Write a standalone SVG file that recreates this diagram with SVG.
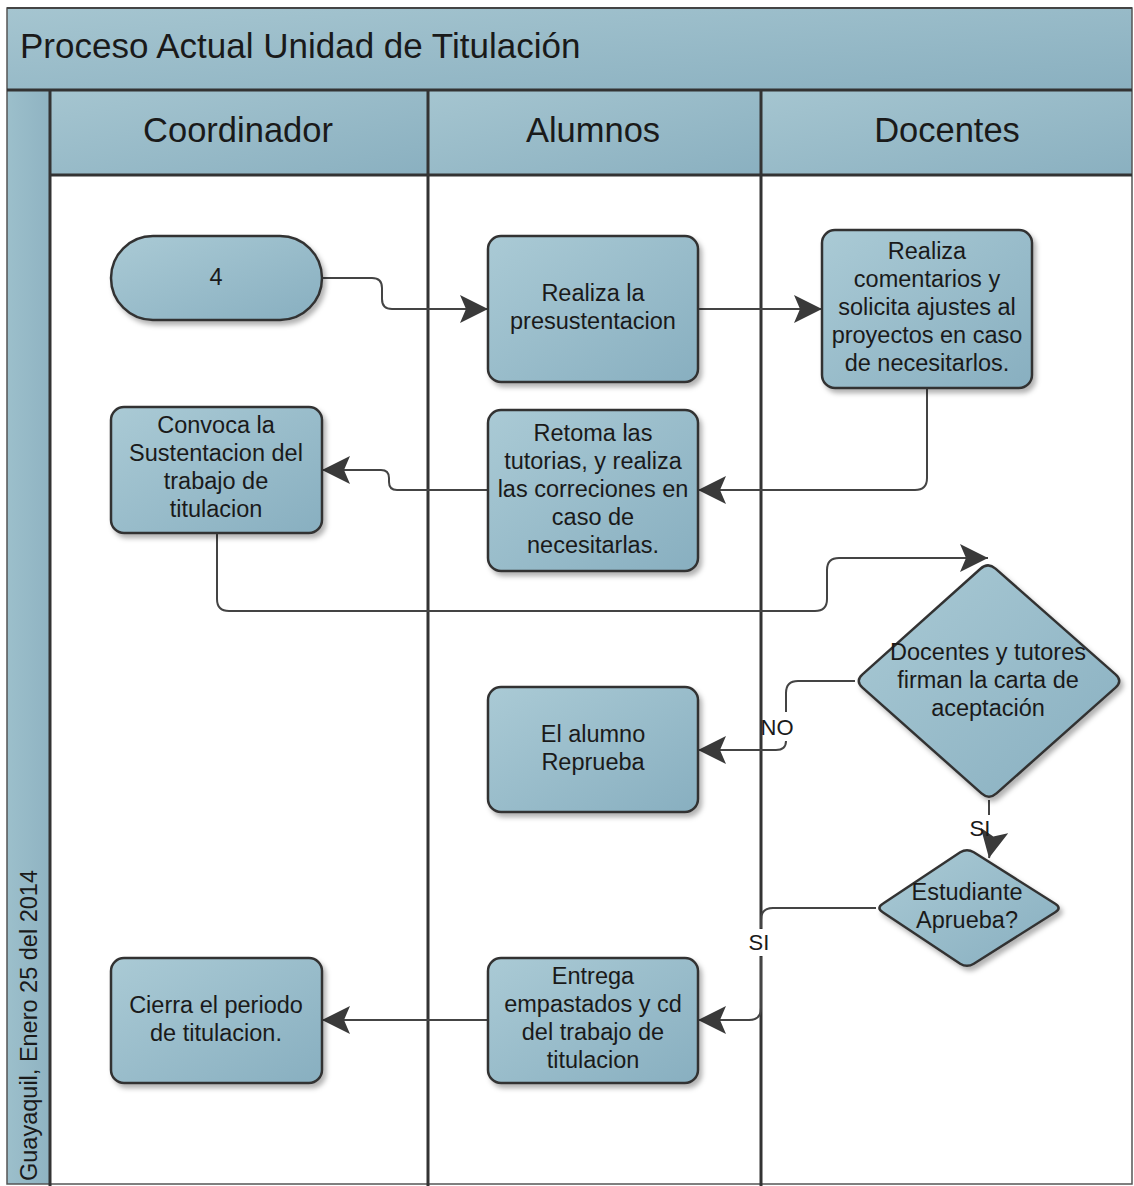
<svg xmlns="http://www.w3.org/2000/svg" width="1134" height="1186" viewBox="0 0 1134 1186">
  <defs>
    <linearGradient id="gBox" x1="0" y1="0" x2="1" y2="1">
      <stop offset="0" stop-color="#aacad5"/>
      <stop offset="1" stop-color="#88afc0"/>
    </linearGradient>
    <linearGradient id="gBar" x1="0" y1="0" x2="1" y2="1">
      <stop offset="0" stop-color="#a5c5d0"/>
      <stop offset="1" stop-color="#8ab0c0"/>
    </linearGradient>
    <linearGradient id="gStrip" x1="0" y1="0" x2="1" y2="0">
      <stop offset="0" stop-color="#9cbfcb"/>
      <stop offset="1" stop-color="#8fb3c2"/>
    </linearGradient>
    <filter id="shadow" x="-10%" y="-10%" width="130%" height="130%">
      <feDropShadow dx="3" dy="4" stdDeviation="2.5" flood-color="#000" flood-opacity="0.3"/>
    </filter>
    <marker id="arrow" markerUnits="userSpaceOnUse" markerWidth="30" markerHeight="30" refX="28" refY="14" orient="auto">
      <path d="M0,0 L28,14 L0,28 L6,14 Z" fill="#3a3a3a"/>
    </marker>
    <style>
      .box { fill: url(#gBox); stroke: #333; stroke-width: 2.5; filter: url(#shadow); }
      .txt { font-family: "Liberation Sans", Arial, sans-serif; font-size: 23.5px; fill: #1a1a1a; text-anchor: middle; }
      .hdr { font-family: "Liberation Sans", Arial, sans-serif; font-size: 34.5px; fill: #1a1a1a; text-anchor: middle; }
      .lbl { font-family: "Liberation Sans", Arial, sans-serif; font-size: 22px; fill: #1a1a1a; text-anchor: middle; }
      .lane { stroke: #333; stroke-width: 3; fill: none; }
      .conn { stroke: #444; stroke-width: 2; fill: none; }
    </style>
  </defs>

  <rect width="1134" height="1186" fill="#fff"/>

  <!-- pool frame, title bar and lane headers -->
  <g id="pool">
    <rect x="7" y="8" width="1125" height="82" fill="url(#gBar)"/>
    <rect x="7" y="90" width="43" height="1094" fill="url(#gStrip)"/>
    <rect x="50" y="90" width="378" height="85" fill="url(#gBar)"/>
    <rect x="428" y="90" width="333" height="85" fill="url(#gBar)"/>
    <rect x="761" y="90" width="371" height="85" fill="url(#gBar)"/>
    <rect x="7" y="8" width="1125" height="1176" fill="none" stroke="#555" stroke-width="1.5"/>
    <line class="lane" x1="7" y1="90" x2="1132" y2="90"/>
    <line class="lane" x1="50" y1="175" x2="1132" y2="175"/>
    <line class="lane" x1="50" y1="90" x2="50" y2="1186"/>
    <line class="lane" x1="428" y1="90" x2="428" y2="1186"/>
    <line class="lane" x1="761" y1="90" x2="761" y2="1186"/>
    <line x1="7" y1="8" x2="1132" y2="8" stroke="#444" stroke-width="2"/>
    <text x="20" y="58" font-family="Liberation Sans, Arial, sans-serif" font-size="35" fill="#1a1a1a">Proceso Actual Unidad de Titulación</text>
    <text class="hdr" x="238" y="142">Coordinador</text>
    <text class="hdr" x="593" y="142">Alumnos</text>
    <text class="hdr" x="947" y="142">Docentes</text>
    <text x="37" y="1181" transform="rotate(-90 37 1181)" font-family="Liberation Sans, Arial, sans-serif" font-size="23.5" fill="#1a1a1a">Guayaquil, Enero 25 del 2014</text>
  </g>

  <!-- connectors -->
  <g id="connectors">
    <path class="conn" d="M322,278 H372 Q382,278 382,288 V299 Q382,309 392,309 H488" marker-end="url(#arrow)"/>
    <path class="conn" d="M698,309 H822" marker-end="url(#arrow)"/>
    <path class="conn" d="M927,388 V478 Q927,490 915,490 H698" marker-end="url(#arrow)"/>
    <path class="conn" d="M488,490 H397 Q389,490 389,482 V478 Q389,470 381,470 H322" marker-end="url(#arrow)"/>
    <path class="conn" d="M217,533 V599 Q217,611 229,611 H815 Q827,611 827,599 V570 Q827,558 839,558 H988" marker-end="url(#arrow)"/>
    <path class="conn" d="M855,681 H798 Q786,681 786,693 V712"/>
    <path class="conn" d="M786,741 Q786,750 776,750 H698" marker-end="url(#arrow)"/>
    <text class="lbl" x="777" y="735">NO</text>
    <path class="conn" d="M989,800 V815"/>
    <path class="conn" d="M993,838 L989,858" marker-end="url(#arrow)"/>
    <text class="lbl" x="980" y="836">SI</text>
    <path class="conn" d="M876,908 H773 Q761,908 761,920 V928"/>
    <rect x="746" y="929" width="28" height="27" fill="#fff"/>
    <path class="conn" d="M761,957 V1008 Q761,1020 749,1020 H698" marker-end="url(#arrow)"/>
    <text class="lbl" x="759" y="950">SI</text>
    <path class="conn" d="M488,1020 H322" marker-end="url(#arrow)"/>
  </g>

  <g id="n-inicio">
    <rect class="box" x="111" y="236" width="211" height="84" rx="42"/>
    <text class="txt" x="216" y="285">4</text>
  </g>

  <g id="n-presustentacion">
    <rect class="box" x="488" y="236" width="210" height="146" rx="13"/>
    <text class="txt" x="593" y="301">Realiza la</text>
    <text class="txt" x="593" y="329">presustentacion</text>
  </g>

  <g id="n-comentarios">
    <rect class="box" x="822" y="230" width="210" height="158" rx="13"/>
    <text class="txt" x="927" y="259">Realiza</text>
    <text class="txt" x="927" y="287">comentarios y</text>
    <text class="txt" x="927" y="315">solicita ajustes al</text>
    <text class="txt" x="927" y="343">proyectos en caso</text>
    <text class="txt" x="927" y="371">de necesitarlos.</text>
  </g>

  <g id="n-convoca">
    <rect class="box" x="111" y="407" width="211" height="126" rx="13"/>
    <text class="txt" x="216" y="433">Convoca la</text>
    <text class="txt" x="216" y="461">Sustentacion del</text>
    <text class="txt" x="216" y="489">trabajo de</text>
    <text class="txt" x="216" y="517">titulacion</text>
  </g>

  <g id="n-retoma">
    <rect class="box" x="488" y="410" width="210" height="161" rx="13"/>
    <text class="txt" x="593" y="441">Retoma las</text>
    <text class="txt" x="593" y="469">tutorias, y realiza</text>
    <text class="txt" x="593" y="497">las correciones en</text>
    <text class="txt" x="593" y="525">caso de</text>
    <text class="txt" x="593" y="553">necesitarlas.</text>
  </g>

  <g id="n-firma">
    <path class="box" d="M980.5,568.7 Q988,562 995.5,568.6 L1115.5,674.4 Q1123,681 1115.5,687.6 L996.5,793.4 Q989,800 981.5,793.4 L862.5,687.6 Q855,681 862.5,674.4 Z"/>
    <text class="txt" x="988" y="660">Docentes y tutores</text>
    <text class="txt" x="988" y="688">firman la carta de</text>
    <text class="txt" x="988" y="716">aceptación</text>
  </g>

  <g id="n-reprueba">
    <rect class="box" x="488" y="687" width="210" height="125" rx="13"/>
    <text class="txt" x="593" y="742">El alumno</text>
    <text class="txt" x="593" y="770">Reprueba</text>
  </g>

  <g id="n-aprueba">
    <path class="box" d="M960.2,852.3 Q967,848 973.8,852.3 L1055.2,903.7 Q1062,908 1055.2,912.3 L973.8,963.7 Q967,968 960.2,963.7 L882.8,912.3 Q876,908 882.8,903.7 Z"/>
    <text class="txt" x="967" y="900">Estudiante</text>
    <text class="txt" x="967" y="928">Aprueba?</text>
  </g>

  <g id="n-entrega">
    <rect class="box" x="488" y="958" width="210" height="125" rx="13"/>
    <text class="txt" x="593" y="984">Entrega</text>
    <text class="txt" x="593" y="1012">empastados y cd</text>
    <text class="txt" x="593" y="1040">del trabajo de</text>
    <text class="txt" x="593" y="1068">titulacion</text>
  </g>

  <g id="n-cierra">
    <rect class="box" x="111" y="958" width="211" height="125" rx="13"/>
    <text class="txt" x="216" y="1013">Cierra el periodo</text>
    <text class="txt" x="216" y="1041">de titulacion.</text>
  </g>
</svg>
